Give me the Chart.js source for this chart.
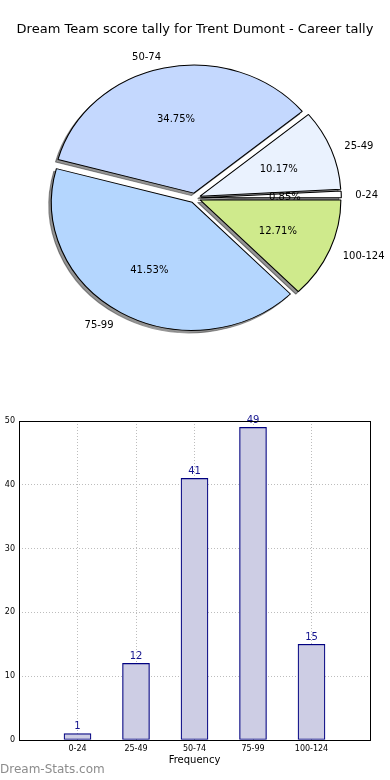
<!DOCTYPE html>
<html>
<head>
<meta charset="utf-8">
<title>Dream Team score tally</title>
<script src="https://cdn.jsdelivr.net/npm/chart.js@4"></script>
<style>
    body { margin: 0; background: #fff; width: 390px; height: 780px; position: relative; overflow: hidden; }
    #pieChart { position: absolute; left: 0; top: 0; }
    #barChart { position: absolute; left: 0; top: 396px; }
    .watermark { position: absolute; left: 0; top: 762px; font: 12px "DejaVu Sans"; color: #8c8c8c; }
</style>
</head>
<body>
<canvas id="pieChart" width="390" height="396"></canvas>
<canvas id="barChart" width="390" height="384"></canvas>
<div class="watermark">Dream-Stats.com</div>

<script>
const chartTitle = 'Dream Team score tally for Trent Dumont - Career tally';
const categories = ['0-24', '25-49', '50-74', '75-99', '100-124'];
const counts = [1, 12, 41, 49, 15];
const sliceColors = ['#ffffff', '#eaf2fe', '#c4d8fe', '#b4d6fe', '#cfea8c'];
const yTicks = [0, 10, 20, 30, 40, 50];

// matplotlib pie was not drawn with equal axes, so it is a little wider than tall
const ELLIPSE_X = 1.1;
const EXPLODE = 5;
const FONT = '"DejaVu Sans", sans-serif';

document.addEventListener('DOMContentLoaded', function() {
    const total = counts.reduce((a, b) => a + b, 0);

    // Chart.js goes clockwise, matplotlib counter-clockwise -> reverse
    const pieLabels = categories.slice().reverse();
    const pieValues = counts.slice().reverse();
    const pieColors = sliceColors.slice().reverse();

    const piePlugin = {
        id: 'explodedPie',
        beforeDatasetsDraw(chart) {
            const ctx = chart.ctx;
            const arcs = chart.getDatasetMeta(0).data;
            const cx = arcs[0].x, cy = arcs[0].y;
            const shift = 2000;
            // first pass: only the shadows (arcs pushed off canvas), second pass: the wedges
            [true, false].forEach(shadowPass => {
                arcs.forEach(arc => {
                    const mid = (arc.startAngle + arc.endAngle) / 2;
                    ctx.save();
                    if (shadowPass) {
                        ctx.translate(-shift, 0);
                        ctx.shadowColor = 'rgba(0,0,0,0.42)';
                        ctx.shadowOffsetX = shift - 2.5;
                        ctx.shadowOffsetY = 2.5;
                        ctx.shadowBlur = 0;
                    }
                    ctx.translate(cx, cy);
                    ctx.scale(ELLIPSE_X, 1);
                    ctx.translate(-cx, -cy);
                    ctx.translate(Math.cos(mid) * EXPLODE, Math.sin(mid) * EXPLODE);
                    arc.draw(ctx);
                    ctx.restore();
                });
            });
            return false;
        },
        afterDraw(chart) {
            const ctx = chart.ctx;
            const arcs = chart.getDatasetMeta(0).data;
            ctx.save();
            ctx.fillStyle = '#000';
            ctx.font = '10px ' + FONT;
            ctx.textBaseline = 'middle';
            arcs.forEach((arc, i) => {
                const mid = (arc.startAngle + arc.endAngle) / 2;
                const cos = Math.cos(mid), sin = Math.sin(mid);
                const r = arc.outerRadius;
                const ax = arc.x + cos * EXPLODE * ELLIPSE_X;
                const ay = arc.y + sin * EXPLODE + 1.5;
                ctx.textAlign = cos >= 0 ? 'left' : 'right';
                ctx.fillText(pieLabels[i], ax + cos * r * 1.1 * ELLIPSE_X, ay + sin * r * 1.1);
                ctx.textAlign = 'center';
                const pct = (pieValues[i] / total * 100).toFixed(2) + '%';
                ctx.fillText(pct, ax + cos * r * 0.6 * ELLIPSE_X, ay + sin * r * 0.6);
            });
            ctx.font = '13px ' + FONT;
            ctx.textAlign = 'center';
            ctx.fillText(chartTitle, chart.width / 2, 30);
            ctx.restore();
        }
    };

    new Chart(document.getElementById('pieChart'), {
        type: 'pie',
        data: {
            labels: pieLabels,
            datasets: [{
                data: pieValues,
                backgroundColor: pieColors,
                borderColor: '#000',
                borderWidth: 1
            }]
        },
        options: {
            responsive: false,
            animation: false,
            rotation: 90,
            radius: 128,
            layout: { padding: 0 },
            plugins: {
                legend: { display: false },
                tooltip: { enabled: false }
            }
        },
        plugins: [piePlugin]
    });

    // Bar chart: empty slots on each side so the bars sit at 1..5 of a 0..6 axis
    const barLabels = [''].concat(categories, ['']);
    const barValues = [null].concat(counts, [null]);

    const barPlugin = {
        id: 'barExtras',
        afterDraw(chart) {
            const ctx = chart.ctx;
            const area = chart.chartArea;
            const bars = chart.getDatasetMeta(0).data;
            ctx.save();
            // values above bars
            ctx.fillStyle = '#15158f';
            ctx.font = '10px ' + FONT;
            ctx.textAlign = 'center';
            ctx.textBaseline = 'bottom';
            bars.forEach((bar, i) => {
                if (barValues[i] == null) return;
                ctx.fillText(String(barValues[i]), bar.x, bar.y - 2);
            });
            // axes frame
            ctx.strokeStyle = '#000';
            ctx.lineWidth = 1;
            ctx.strokeRect(Math.round(area.left) + 0.5, Math.round(area.top) + 0.5,
                Math.round(area.right - area.left), Math.round(area.bottom - area.top));
            ctx.restore();
        }
    };

    const gridStyle = {
        color: '#bdbdbd',
        lineWidth: 1,
        drawTicks: false,
        borderDash: [1, 2]
    };

    new Chart(document.getElementById('barChart'), {
        type: 'bar',
        data: {
            labels: barLabels,
            datasets: [{
                data: barValues,
                backgroundColor: '#cdcde4',
                borderColor: '#000080',
                borderWidth: 1.2,
                borderSkipped: false,
                barThickness: 27
            }]
        },
        options: {
            responsive: false,
            animation: false,
            layout: { padding: { top: 25, right: 20, left: 0, bottom: 0 } },
            plugins: {
                legend: { display: false },
                tooltip: { enabled: false }
            },
            scales: {
                x: {
                    offset: false,
                    z: 1,
                    grid: Object.assign({ offset: false }, gridStyle),
                    border: { display: false, dash: [1, 2] },
                    ticks: { font: { size: 8, family: FONT }, color: '#000', padding: 4, maxRotation: 0, autoSkip: false },
                    title: { display: true, text: 'Frequency', font: { size: 10, family: FONT }, color: '#000', padding: { top: 0, bottom: 14 } },
                    afterFit: function(scale) { scale.height = 40; }
                },
                y: {
                    min: 0,
                    max: 50,
                    z: 1,
                    afterBuildTicks: function(scale) { scale.ticks = yTicks.map(v => ({ value: v })); },
                    grid: gridStyle,
                    border: { display: false, dash: [1, 2] },
                    ticks: { font: { size: 8, family: FONT }, color: '#000', padding: 4 },
                    afterFit: function(scale) { scale.width = 19; }
                }
            }
        },
        plugins: [barPlugin]
    });
});
</script>
</body>
</html>
